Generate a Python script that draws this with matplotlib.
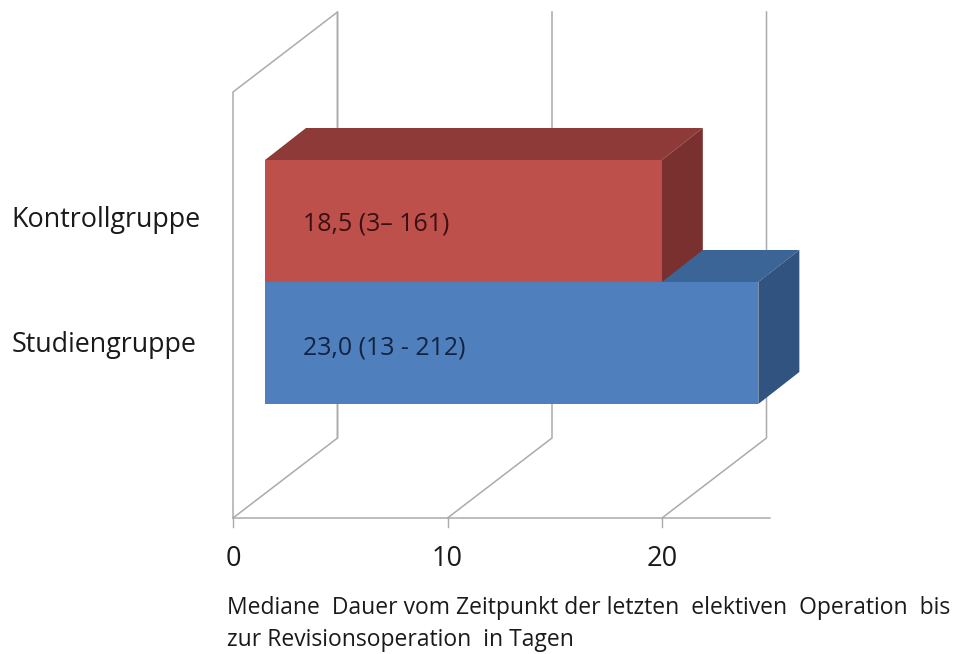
import matplotlib
matplotlib.use("Agg")
import matplotlib.pyplot as plt
from matplotlib.patches import Polygon

# Median duration in days, with the range given in each bar's label
groups = ["Studiengruppe", "Kontrollgruppe"]
medians = [23.0, 18.5]
bar_labels = ["23,0 (13 - 212)", "18,5 (3\u2013 161)"]
ticks = [0, 10, 20]
caption_lines = [
    "Mediane  Dauer vom Zeitpunkt der letzten  elektiven  Operation  bis",
    "zur Revisionsoperation  in Tagen",
]

FRONT = ["#4F7FBC", "#BE504C"]
TOP = ["#3A6596", "#8E3A38"]
SIDE = ["#30547F", "#7A302F"]
GRID = "#ABABAB"
TEXT = "#1A1A1A"

W, H = 958, 654
PX_X = 21.45   # pixels per day
PX_Y = 122.0   # pixels per bar row
FONT = "Open Sans"

fig = plt.figure(figsize=(W / 100, H / 100), dpi=100, facecolor="white")
ax = fig.add_axes([0, 0, 1, 1])
ax.set_xlim(-233 / PX_X, (W - 233) / PX_X)
ax.set_ylim(-(H - 404) / PX_Y, 404 / PX_Y)
ax.axis("off")

# Oblique depth of the bars and of the floor, in axis units
bar_dx, bar_dy = 41 / PX_X, 32 / PX_Y
wall_dx, wall_dy = 104.5 / PX_X, 80 / PX_Y
bar_x0 = 32 / PX_X
floor_y = -114 / PX_Y
wall_h = 426 / PX_Y
axis_end = 25.03

# Walls, floor and tick marks
ax.plot([0, 0, wall_dx, wall_dx],
        [floor_y, floor_y + wall_h, floor_y + wall_h + wall_dy, floor_y + wall_dy],
        color=GRID, lw=1.1, zorder=1)
for t in ticks:
    ax.plot([t, t + wall_dx, t + wall_dx],
            [floor_y, floor_y + wall_dy, floor_y + wall_dy + wall_h],
            color=GRID, lw=1.1, zorder=1)
    ax.plot([t, t], [floor_y, floor_y - 9 / PX_Y], color=GRID, lw=1.0, zorder=1)
    ax.text(t, floor_y - 41 / PX_Y, str(t), ha="center", va="center",
            fontsize=19.5, family=FONT, color=TEXT)
ax.plot([0, axis_end], [floor_y, floor_y], color=GRID, lw=1.1, zorder=1)

# Each bar: front face, then the top and the side in darker shades
for i, (name, value, label) in enumerate(zip(groups, medians, bar_labels)):
    x0, x1 = bar_x0, bar_x0 + value
    y0, y1 = i, i + 1
    z = 2 + i
    ax.add_patch(Polygon([(x0, y1), (x0 + bar_dx, y1 + bar_dy),
                          (x1 + bar_dx, y1 + bar_dy), (x1, y1)],
                         facecolor=TOP[i], edgecolor="none", zorder=z))
    ax.add_patch(Polygon([(x1, y0), (x1 + bar_dx, y0 + bar_dy),
                          (x1 + bar_dx, y1 + bar_dy), (x1, y1)],
                         facecolor=SIDE[i], edgecolor="none", zorder=z))
    ax.add_patch(Polygon([(x0, y0), (x1, y0), (x1, y1), (x0, y1)],
                         facecolor=FRONT[i], edgecolor="none", zorder=z))
    ax.text(bar_x0 + 38 / PX_X, y0 + (0.46 if i == 0 else 0.475), label, ha="left",
            va="center", fontsize=17.9, family=FONT,
            color="#14233F" if i == 0 else "#3A1012", zorder=5)

# Category labels to the left of the walls
for name, y in zip(groups, [(404 - 345) / PX_Y, (404 - 220) / PX_Y]):
    ax.text(-221.5 / PX_X, y, name, ha="left", va="center", fontsize=19.4,
            family=FONT, color=TEXT)

# Axis caption below the tick labels
for line, y in zip(caption_lines, [608, 640]):
    ax.text(-6 / PX_X, (404 - y) / PX_Y, line, ha="left", va="center",
            fontsize=16.5, family=FONT, color=TEXT)

fig.savefig("out.png", dpi=100, facecolor="white")
